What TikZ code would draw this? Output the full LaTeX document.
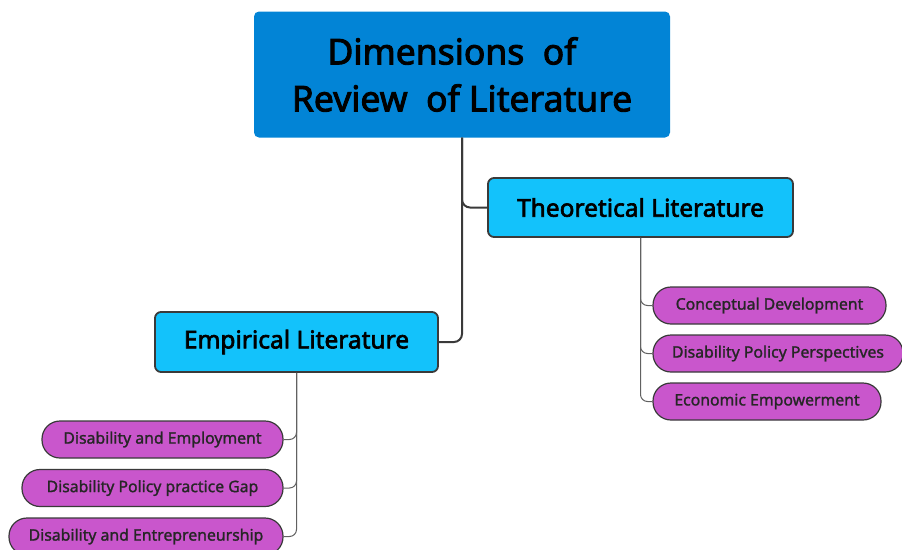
\documentclass[tikz,border=0pt]{standalone}
\usepackage{fontspec}
\setmainfont{Noto Sans}
\newfontfamily\medfont{Noto Sans}[FakeBold=2.6]
\newfontfamily\leaffnt{Noto Sans}[FakeBold=1.4]
\begin{document}
\begin{tikzpicture}[x=1pt,y=-1pt,
  rootbox/.style={fill=rootblue,rounded corners=5pt,inner sep=0pt,text=black,align=center},
  topicbox/.style={fill=topiccyan,draw=linegray,line width=1.8pt,rounded corners=6pt,inner sep=0pt,text=black},
  leafbox/.style={fill=leafpurple,draw=linegray,line width=1.2pt,rounded corners=18pt,inner sep=0pt,text=black!85},
  mainline/.style={draw=linegray,line width=2pt,rounded corners=8pt},
  leafline/.style={draw=linegray!80,line width=1pt,rounded corners=7pt}]
\definecolor{rootblue}{RGB}{2,132,214}
\definecolor{topiccyan}{RGB}{19,194,251}
\definecolor{leafpurple}{RGB}{201,86,204}
\definecolor{linegray}{RGB}{58,58,58}
\useasboundingbox (0,0) rectangle (902,549);
% root
\node[rootbox,minimum width=416pt,minimum height=126pt,font=\medfont\fontsize{35.5}{47}\selectfont] (root) at (462,74.5)
  {Dimensions\ \ of\hspace*{20pt}\\Review\ \ of Literature};
% topics
\node[topicbox,minimum width=305pt,minimum height=59pt,font=\medfont\fontsize{24.5}{28}\selectfont] (theo) at (640.5,207.5) {Theoretical Literature};
\node[topicbox,minimum width=283pt,minimum height=60pt,font=\medfont\fontsize{24.5}{28}\selectfont] (emp) at (296.5,342) {Empirical Literature};
% leaves right
\tikzset{leaffont/.style={font=\leaffnt\fontsize{15.8}{18}\selectfont}}
\node[leafbox,leaffont,minimum width=233pt,minimum height=37pt] (l1) at (769.5,305.5) {Conceptual Development};
\node[leafbox,leaffont,minimum width=250pt,minimum height=37pt] (l2) at (778,353.5) {Disability Policy Perspectives};
\node[leafbox,leaffont,minimum width=228pt,minimum height=37pt] (l3) at (767,401.5) {Economic Empowerment};
% leaves left
\node[leafbox,leaffont,minimum width=241pt,minimum height=37pt] (e1) at (162.5,439.5) {Disability and Employment};
\node[leafbox,leaffont,minimum width=261pt,minimum height=37pt] (e2) at (152.5,488) {Disability Policy practice Gap};
\node[leafbox,leaffont,minimum width=274pt,minimum height=37pt] (e3) at (146,536.5) {Disability and Entrepreneurship};
% connectors
\coordinate (rj) at (462,138);
\path[mainline] (root.south -| rj) |- (theo.west);
\path[mainline] (root.south -| rj) |- (emp.east);
\path[leafline] (theo.south) |- (l1.west);
\path[leafline] (theo.south) |- (l2.west);
\path[leafline] (theo.south) |- (l3.west);
\path[leafline] (emp.south) |- (e1.east);
\path[leafline] (emp.south) |- (e2.east);
\path[leafline] (emp.south) |- (e3.east);
\end{tikzpicture}
\end{document}
